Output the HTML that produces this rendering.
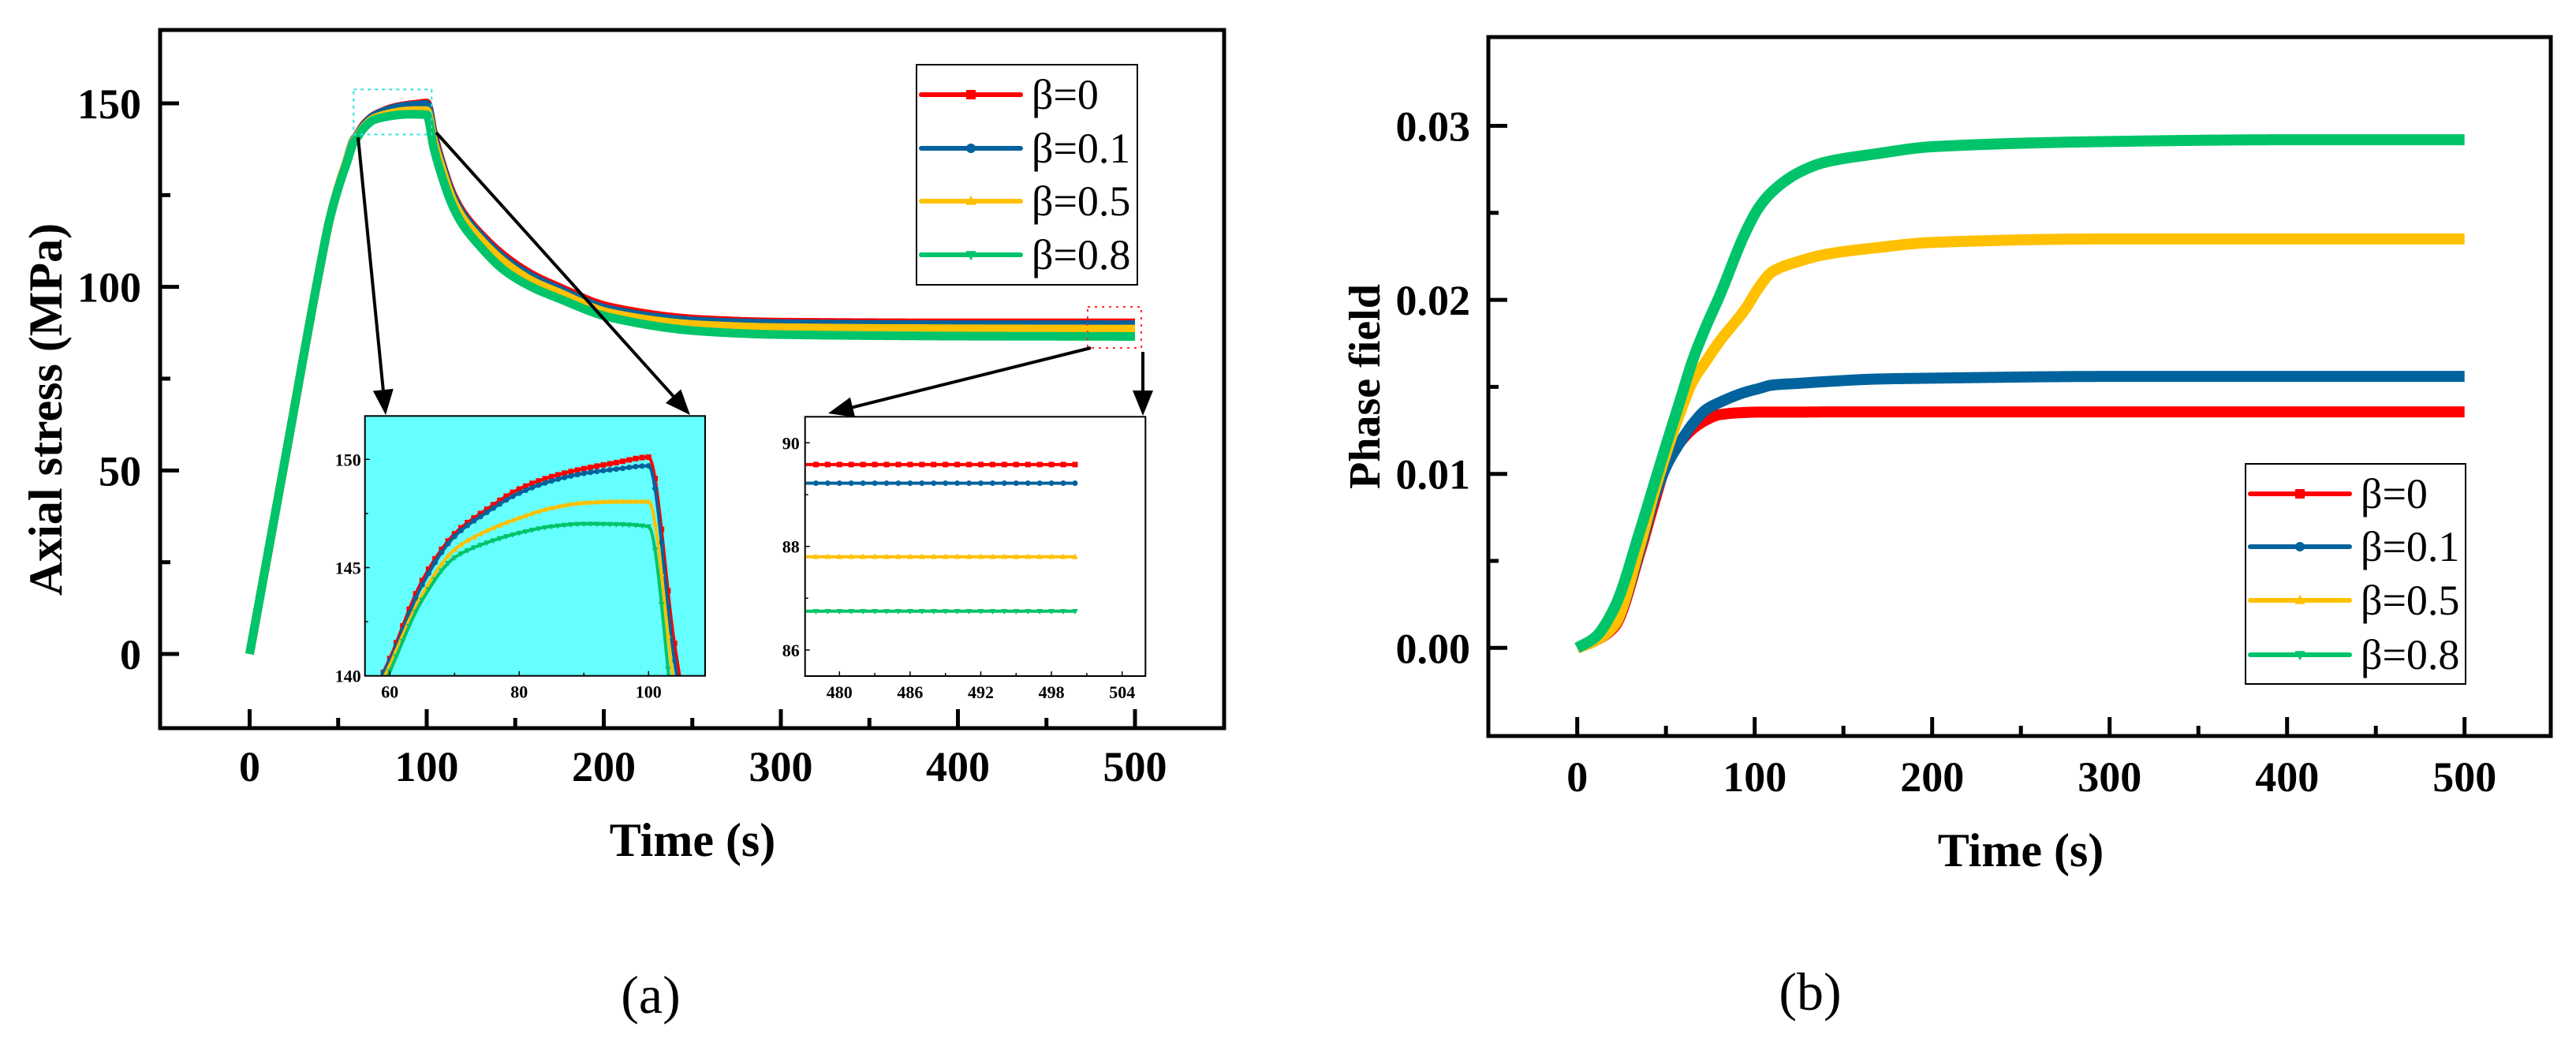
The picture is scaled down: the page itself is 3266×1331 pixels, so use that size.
<!DOCTYPE html>
<html><head><meta charset="utf-8">
<style>
html,body{margin:0;padding:0;background:#fff;width:3266px;height:1331px;overflow:hidden;}
svg{display:block;}
text{font-family:"Liberation Serif",serif;}
</style></head>
<body>
<svg id="fig" xmlns="http://www.w3.org/2000/svg" width="3266" height="1331" viewBox="0 0 3266 1331"></svg>
<script>
// ---------- DATA ----------
const seriesNames = ["β=0","β=0.1","β=0.5","β=0.8"];
const seriesColors = ["#ff0000","#00639d","#ffc000","#00c46a"];
const seriesMarkers = ["square","circle","up","down"];

// Panel (a): axial stress
const stressTimes  = [0,20,40,45,50,55,58.8,60,65,70,75,80,85,90,95,100,104,108,114.4,120,129.3,144.1,160,173.8,203.5,255.5,300,400,500];
const stressRed    = [0,53,106,118,127,134.5,140,140.8,144.4,146.56,147.7,148.63,149.2,149.57,149.85,150.1,141.5,134.5,125.5,120.5,115,108.3,103.2,100.1,94.5,91.1,90.4,90.2,90.2];
const stressBlue   = [0,53,106,118,127,134.5,140,140.7,144.2,146.44,147.55,148.44,149.0,149.35,149.55,149.7,140.7,134,125,120,114.5,107.6,102.6,99.5,93.8,90.6,90,89.7,89.7];
const stressYellow = [0,53,106,118,127,134.4,139.7,140.5,143.76,145.83,146.7,147.29,147.75,147.99,148.05,148.05,139.5,133,124,119,113.5,106.6,101.5,98.6,92.9,89.6,88.9,88.6,88.5];
const stressGreen  = [0,53,106,118,126.8,134,139.4,140.2,143.5,145.46,146.15,146.6,146.9,147.02,147.0,146.9,137.8,131,122.3,117.2,111.5,104.4,99.8,97.0,91.7,87.9,87,86.6,86.5];
const stressSeries = [stressRed,stressBlue,stressYellow,stressGreen];
// inset 2 (steady values near t=500)
const inset2Values = [89.58,89.22,87.8,86.75];

// Panel (b): phase field
const phaseTimes  = [0,10,20.9,35.7,43,50.5,57.9,65.3,72.7,80.1,94.9,102.3,109.7,124.5,139.4,169,200,300,400,500];
const phaseRed    = [0,0.0004,0.0012,0.0056,0.0082,0.0106,0.0118,0.0126,0.0131,0.0134,0.01353,0.01355,0.01355,0.01355,0.01356,0.01356,0.01356,0.01356,0.01356,0.01356];
const phaseBlue   = [0,0.0004,0.0013,0.0058,0.0085,0.0105,0.0118,0.0129,0.0137,0.0141,0.0147,0.0149,0.0151,0.0152,0.0153,0.01545,0.0155,0.0156,0.0156,0.0156];
const phaseYellow = [0,0.0004,0.0013,0.006,0.0088,0.0113,0.0135,0.01535,0.0165,0.0176,0.0195,0.0207,0.0216,0.0222,0.0226,0.023,0.0233,0.0235,0.0235,0.0235];
const phaseGreen  = [0,0.0006,0.0023,0.00685,0.0093,0.0118,0.0142,0.0166,0.0185,0.0202,0.0239,0.0253,0.0262,0.0273,0.0279,0.0284,0.0288,0.0291,0.0292,0.0292];
const phaseSeries = [phaseRed,phaseBlue,phaseYellow,phaseGreen];

const xTicksMain = [0,100,200,300,400,500];
const yTicksA = [0,50,100,150];
const yTicksB = [0,0.01,0.02,0.03];
const yTickLabelsB = ["0.00","0.01","0.02","0.03"];
const inset1XTicks = [60,80,100];
const inset1YTicks = [140,145,150];
const inset2XTicks = [480,486,492,498,504];
const inset2YTicks = [86,88,90];

// ---------- HELPERS ----------
const NS = "http://www.w3.org/2000/svg";
const svg = document.getElementById("fig");
function mk(tag, attrs, parent){
  const e = document.createElementNS(NS, tag);
  for (const k in attrs) e.setAttribute(k, attrs[k]);
  (parent||svg).appendChild(e);
  return e;
}
function lin(d0,d1,r0,r1){ return v => r0 + (v-d0)*(r1-r0)/(d1-d0); }
function slopes(xs, ys){
  const n=xs.length, d=[], m=new Array(n);
  for (let i=0;i<n-1;i++) d.push((ys[i+1]-ys[i])/(xs[i+1]-xs[i]));
  m[0]=d[0]; m[n-1]=d[n-2];
  for (let i=1;i<n-1;i++){
    if (d[i-1]*d[i]<=0) m[i]=0;
    else { const w1=2*(xs[i+1]-xs[i])+(xs[i]-xs[i-1]), w2=(xs[i+1]-xs[i])+2*(xs[i]-xs[i-1]); m[i]=(w1+w2)/(w1/d[i-1]+w2/d[i]); }
  }
  return m;
}
function spline(xs, ys, t){
  const m = slopes(xs,ys);
  let i=0; while (i<xs.length-2 && t>xs[i+1]) i++;
  const h=xs[i+1]-xs[i], s=(t-xs[i])/h;
  const h00=2*s*s*s-3*s*s+1, h10=s*s*s-2*s*s+s, h01=-2*s*s*s+3*s*s, h11=s*s*s-s*s;
  return h00*ys[i]+h10*h*m[i]+h01*ys[i+1]+h11*h*m[i+1];
}
function splinePoints(xs, ys, sx, sy, step){
  const pts=[];
  for (let t=xs[0]; t<xs[xs.length-1]; t+=step) pts.push(sx(t)+","+sy(spline(xs,ys,t)));
  pts.push(sx(xs[xs.length-1])+","+sy(ys[ys.length-1]));
  return pts.join(" ");
}
function marker(g, type, x, y, s, color){
  let m;
  if (type==="square") m = mk("rect",{x:x-s,y:y-s,width:2*s,height:2*s,fill:color},g);
  else if (type==="circle") m = mk("circle",{cx:x,cy:y,r:s,fill:color},g);
  else if (type==="up") m = mk("polygon",{points:`${x},${y-s*1.2} ${x-s*1.1},${y+s*0.8} ${x+s*1.1},${y+s*0.8}`,fill:color},g);
  else m = mk("polygon",{points:`${x},${y+s*1.2} ${x-s*1.1},${y-s*0.8} ${x+s*1.1},${y-s*0.8}`,fill:color},g);
  return m;
}
function arrow(x1,y1,x2,y2,name){
  const g = mk("g",{});
  
  
  const dx=x2-x1, dy=y2-y1, L=Math.hypot(dx,dy), ux=dx/L, uy=dy/L;
  const hl=32, hw=13;
  const bx=x2-ux*hl, by=y2-uy*hl;
  mk("line",{x1:x1,y1:y1,x2:bx,y2:by,stroke:"#000","stroke-width":4},g);
  mk("polygon",{points:`${x2},${y2} ${bx-uy*hw},${by+ux*hw} ${bx+uy*hw},${by-ux*hw}`,fill:"#000"},g);
}
function legend(x0,y0,x1,y1,rowY,name){
  const g = mk("g",{});
  
  
  mk("rect",{x:x0,y:y0,width:x1-x0,height:y1-y0,fill:"#fff",stroke:"#000","stroke-width":2},g);
  seriesNames.forEach((n,i)=>{
    const e = mk("g",{},g);
    
    
    mk("line",{x1:x0+6,y1:rowY[i],x2:x0+132,y2:rowY[i],stroke:seriesColors[i],"stroke-width":6,"stroke-linecap":"round"},e);
    marker(e,seriesMarkers[i],x0+69,rowY[i],6,seriesColors[i]);
    const t = mk("text",{x:x0+146,y:rowY[i]+18,"font-size":54,fill:"#000","font-family":"Liberation Serif, serif"},e);
    t.textContent = n;
  });
}
function frameAxes(o){
  const g = mk("g",{});
  
  
  mk("rect",{x:o.L,y:o.T,width:o.R-o.L,height:o.B-o.T,fill:"none",stroke:"#000","stroke-width":5},g);
  for (let v=o.xd0; v<=o.xmax+1e-9; v+=o.xminor){
    const major = Math.abs(((v-o.xd0)/o.xmajor) - Math.round((v-o.xd0)/o.xmajor))<1e-6;
    const X = o.sx(v);
    if (X<o.L+3||X>o.R-3) continue;
    mk("line",{x1:X,y1:o.B,x2:X,y2:o.B-(major?24:13),stroke:"#000","stroke-width":5},g);
  }
  for (let v=o.yd0; v<=o.ymax+1e-9; v+=o.yminor){
    const major = Math.abs(((v-o.yd0)/o.ymajor) - Math.round((v-o.yd0)/o.ymajor))<1e-6;
    const Y = o.sy(v);
    if (Y<o.T+3||Y>o.B-3) continue;
    mk("line",{x1:o.L,y1:Y,x2:o.L+(major?24:13),y2:Y,stroke:"#000","stroke-width":5},g);
  }
  return g;
}

// ---------- PANEL A ----------
const ax = lin(0,500,316.5,1439), ay = lin(0,150,829,131);
const pa = {name:"stress",L:203,T:38,R:1552,B:923,sx:ax,sy:ay,xmin:-50,xmax:550,xd0:0,xmajor:100,xminor:50,ymin:-20,ymax:170,yd0:0,ymajor:50,yminor:25};
frameAxes(pa);
xTicksMain.forEach(v=>{
  const t = mk("text",{x:ax(v),y:990,"font-size":54,"font-weight":"bold","text-anchor":"middle"});
  
  
  t.textContent = v;
});
yTicksA.forEach(v=>{
  const t = mk("text",{x:179,y:ay(v)+19,"font-size":54,"font-weight":"bold","text-anchor":"end"});
  
  
  t.textContent = v;
});
{
  const t = mk("text",{x:878,y:1085,"font-size":60,"font-weight":"bold","text-anchor":"middle"});
  
  
  t.textContent = "Time (s)";
  const t2 = mk("text",{x:0,y:0,"font-size":60,"font-weight":"bold","text-anchor":"middle",transform:"translate(78,519) rotate(-90)"});
  
  
  t2.textContent = "Axial stress (MPa)";
}
const ga = mk("g",{});


stressSeries.forEach((vals,i)=>{
  const p = mk("polyline",{points:splinePoints(stressTimes,vals,ax,ay,0.5),fill:"none",stroke:seriesColors[i],"stroke-width":11,"stroke-linejoin":"round"},ga);
  
  
});
{
  const b1 = mk("rect",{x:ax(58.7),y:ay(153.8),width:ax(102.8)-ax(58.7),height:ay(141.5)-ay(153.8),fill:"none",stroke:"#33e0e0","stroke-width":2,"stroke-dasharray":"4,5"});
  
  
  const b2 = mk("rect",{x:1379,y:389,width:68,height:52,fill:"none",stroke:"#ff3030","stroke-width":2,"stroke-dasharray":"3,6"});
  
  
}
legend(1162,82,1442,361,[120,188,255,323],"legend-a");

// Inset 1
{
  const L=462.7,T=527.3,R=894,B=856.7;
  const ix = lin(60,100,494.3,822.3), iy = lin(140,150,856.7,582.3);
  const g = mk("g",{});
  
  
  mk("rect",{x:L,y:T,width:R-L,height:B-T,fill:"#66ffff"},g);
  const cp = mk("clipPath",{id:"c1"},g);
  mk("rect",{x:L,y:T,width:R-L,height:B-T},cp);
  const d = mk("g",{"clip-path":"url(#c1)"},g);
  stressSeries.forEach((vals,i)=>{
    const p = mk("polyline",{points:splinePoints(stressTimes,vals,ix,iy,0.25),fill:"none",stroke:seriesColors[i],"stroke-width":4,"stroke-linejoin":"round"},d);
    
    
    for (let t=57; t<=108; t+=1){
      marker(d,seriesMarkers[i],ix(t),iy(spline(stressTimes,vals,t)),3.5,seriesColors[i]);
    }
  });
  mk("rect",{x:L,y:T,width:R-L,height:B-T,fill:"none",stroke:"#000","stroke-width":2},g);
  for (let v=60; v<=108; v+=10){ mk("line",{x1:ix(v),y1:B,x2:ix(v),y2:B-(v%20===0?6:4),stroke:"#000","stroke-width":1.5},g); }
  for (let v=140; v<=152; v+=2.5){ mk("line",{x1:L,y1:iy(v),x2:L+(v%5===0?6:4),y2:iy(v),stroke:"#000","stroke-width":1.5},g); }
  inset1XTicks.forEach(v=>{ const t=mk("text",{x:ix(v),y:B+28,"font-size":22,"font-weight":"bold","text-anchor":"middle"},g); t.textContent=v; });
  inset1YTicks.forEach(v=>{ const t=mk("text",{x:L-5,y:iy(v)+8,"font-size":22,"font-weight":"bold","text-anchor":"end"},g); t.textContent=v; });
}
// Inset 2
{
  const L=1020.7,T=528.3,R=1452.3,B=857;
  const ix = lin(480,504,1064.3,1422.7), iy = lin(86,90,824,561.3);
  const g = mk("g",{});
  
  
  mk("rect",{x:L,y:T,width:R-L,height:B-T,fill:"#fff",stroke:"#000","stroke-width":2},g);
  inset2Values.forEach((v,i)=>{
    const p = mk("line",{x1:L+1,y1:iy(v),x2:ix(500),y2:iy(v),stroke:seriesColors[i],"stroke-width":4},g);
    
    
    for (let t=478; t<=500; t+=1) marker(g,seriesMarkers[i],ix(t),iy(v),3.5,seriesColors[i]);
  });
  for (let v=480; v<=505; v+=3){ mk("line",{x1:ix(v),y1:B,x2:ix(v),y2:B-(v%6===0?6:4),stroke:"#000","stroke-width":1.5},g); }
  for (let v=86; v<=90; v+=1){ mk("line",{x1:L,y1:iy(v),x2:L+(v%2===0?6:4),y2:iy(v),stroke:"#000","stroke-width":1.5},g); }
  inset2XTicks.forEach(v=>{ const t=mk("text",{x:ix(v),y:B+28,"font-size":22,"font-weight":"bold","text-anchor":"middle"},g); t.textContent=v; });
  inset2YTicks.forEach(v=>{ const t=mk("text",{x:L-7,y:iy(v)+8,"font-size":22,"font-weight":"bold","text-anchor":"end"},g); t.textContent=v; });
}
arrow(454,174,489,526,"arrow-to-inset1-left");
arrow(553,168,875,526,"arrow-to-inset1-right");
arrow(1383,441,1050,524,"arrow-to-inset2-left");
arrow(1449,446,1449,527,"arrow-to-inset2-right");
{
  const t = mk("text",{x:825,y:1284,"font-size":68,"text-anchor":"middle","font-family":"Liberation Sans, sans-serif"});
  
  
  t.textContent = "(a)";
}

// ---------- PANEL B ----------
const bx = lin(0,500,1999.7,3124.7), by = lin(0,0.03,821.3,159.5);
const pb = {name:"phase",L:1887,T:47,R:3234,B:933,sx:bx,sy:by,xmin:-50,xmax:550,xd0:0,xmajor:100,xminor:50,ymin:-0.005,ymax:0.035,yd0:0,ymajor:0.01,yminor:0.005};
frameAxes(pb);
xTicksMain.forEach(v=>{
  const t = mk("text",{x:bx(v),y:1003,"font-size":54,"font-weight":"bold","text-anchor":"middle"});
  
  
  t.textContent = v;
});
yTicksB.forEach((v,i)=>{
  const t = mk("text",{x:1864,y:by(v)+19,"font-size":54,"font-weight":"bold","text-anchor":"end"});
  
  
  t.textContent = yTickLabelsB[i];
});
{
  const t = mk("text",{x:2562,y:1098,"font-size":60,"font-weight":"bold","text-anchor":"middle"});
  
  
  t.textContent = "Time (s)";
  const t2 = mk("text",{x:0,y:0,"font-size":56,"font-weight":"bold","text-anchor":"middle",transform:"translate(1749,490) rotate(-90)"});
  
  
  t2.textContent = "Phase field";
}
const gb = mk("g",{});


phaseSeries.forEach((vals,i)=>{
  const p = mk("polyline",{points:splinePoints(phaseTimes,vals,bx,by,0.5),fill:"none",stroke:seriesColors[i],"stroke-width":14,"stroke-linejoin":"round"},gb);
  
  
});
legend(2847,588,3126,867,[626,693,761,830],"legend-b");
{
  const t = mk("text",{x:2295,y:1280,"font-size":68,"text-anchor":"middle","font-family":"Liberation Sans, sans-serif"});
  
  
  t.textContent = "(b)";
}
</script>
</body></html>
